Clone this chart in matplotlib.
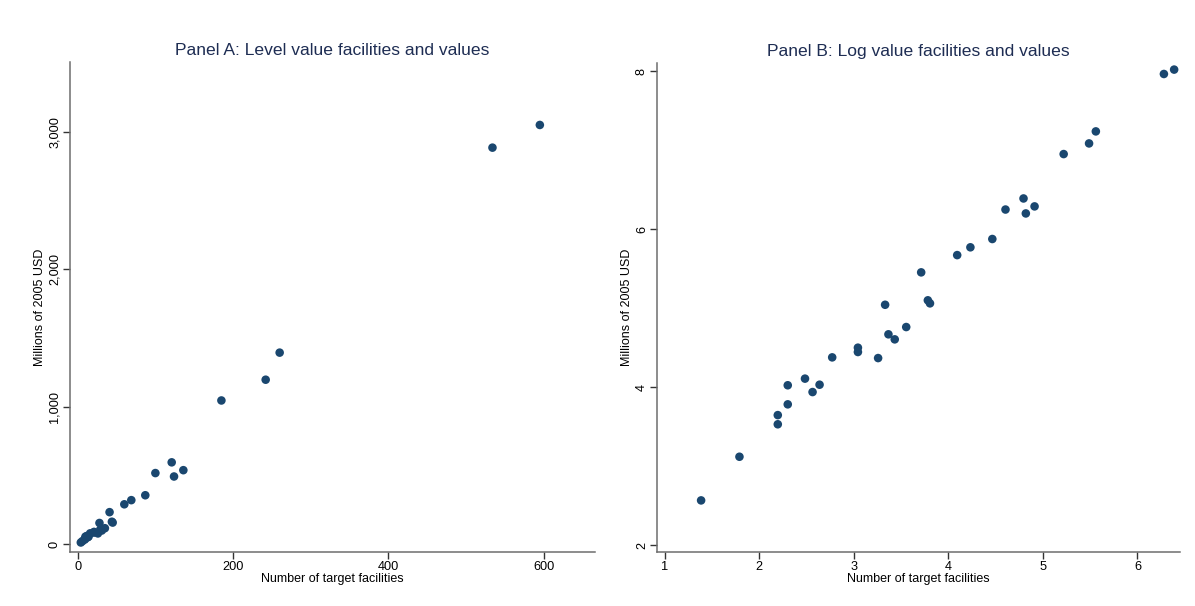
import numpy as np
import matplotlib
matplotlib.use("Agg")
import matplotlib.pyplot as plt

plt.rcParams['font.family'] = ['Liberation Sans', 'DejaVu Sans']

# Facilities per deal and deal value (millions of 2005 USD)
facilities = [4, 6, 9, 9, 10, 10, 12, 13, 14, 16, 21, 21, 26, 28, 29, 31,
              35, 41, 44, 45, 60, 69, 87, 100, 121, 124, 136, 185, 242, 260,
              534, 595]
values = [13.0, 22.6, 38.3, 34.1, 43.9, 55.9, 60.8, 51.3, 56.3, 79.6, 90.0,
          85.2, 78.9, 155, 106.6, 100, 116.9, 233.7, 164, 157.8, 290.8, 321,
          356.6, 518, 596, 493, 539, 1046, 1197, 1394, 2885, 3050]

level_xticks = [0, 200, 400, 600]
level_yticks = [0, 1000, 2000, 3000]
log_xticks = [1, 2, 3, 4, 5, 6]
log_yticks = [2, 4, 6, 8]

x = np.array(facilities, dtype=float)
y = np.array(values, dtype=float)

dot = '#1a476f'
title_col = '#1e2d53'
spine_col = '#6e6e6e'

fig = plt.figure(figsize=(11.95, 6.06), dpi=100)
ax1 = fig.add_axes([0.0586, 0.0896, 0.4393, 0.8081])
ax2 = fig.add_axes([0.5498, 0.0896, 0.4376, 0.8069])


def style(ax):
    for side in ['top', 'right']:
        ax.spines[side].set_visible(False)
    for side in ['left', 'bottom']:
        ax.spines[side].set_color(spine_col)
        ax.spines[side].set_linewidth(1.1)
    ax.tick_params(axis='both', colors='#333333', labelcolor='black',
                   length=5, width=1, labelsize=9.2, pad=1.5)
    ax.tick_params(axis='y', labelrotation=90)
    for lab in ax.get_yticklabels():
        lab.set_va('center')
    ax.set_xlabel('Number of target facilities', fontsize=9, labelpad=0)
    ax.set_ylabel('Millions of 2005 USD', fontsize=9, labelpad=2)


# Panel A: levels
ax1.scatter(x, y, s=38, color=dot, edgecolors='none', zorder=3)
ax1.set_xlim(-9.9, 666)
ax1.set_ylim(-54, 3508)
ax1.set_xticks(level_xticks)
ax1.set_yticks(level_yticks)
ax1.set_yticklabels([f'{v:,}' for v in level_yticks])
ax1.set_title('Panel A: Level value facilities and values',
              fontsize=12.6, color=title_col, pad=5)
style(ax1)

# Panel B: logs
ax2.scatter(np.log(x), np.log(y), s=38, color=dot, edgecolors='none', zorder=3)
ax2.set_xlim(0.92, 6.45)
ax2.set_ylim(1.915, 8.11)
ax2.set_xticks(log_xticks)
ax2.set_yticks(log_yticks)
ax2.set_title('Panel B: Log value facilities and values',
              fontsize=12.6, color=title_col, pad=5)
style(ax2)

fig.savefig('out.png', dpi=100, facecolor='white')
